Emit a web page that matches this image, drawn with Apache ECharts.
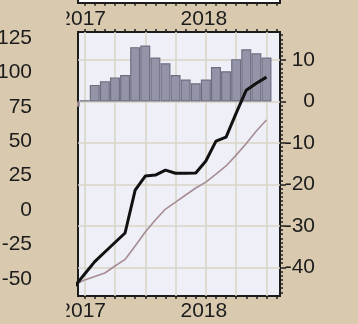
<!DOCTYPE html>
<html>
<head>
<meta charset="utf-8">
<script src="https://cdn.jsdelivr.net/npm/echarts@6/dist/echarts.min.js"></script>
<style>
  html, body { margin: 0; padding: 0; background: #D9C9AE; }
  #chart { width: 358px; height: 324px; }
</style>
</head>
<body>
<div id="chart"></div>
<script>
// Monthly observations, Dec 2016 .. Jul 2018
const months = ['2016-12', '2017-01', '2017-02', '2017-03', '2017-04', '2017-05', '2017-06',
  '2017-07', '2017-08', '2017-09', '2017-10', '2017-11', '2017-12', '2018-01', '2018-02',
  '2018-03', '2018-04', '2018-05', '2018-06', '2018-07'];

// Monthly change (right axis, bars)
const changeValues = [-1.3, 0.3, 4.0, 4.9, 5.8, 6.4, 13.1, 13.5, 10.6, 9.2, 6.4, 5.3, 4.4,
  5.3, 8.3, 7.3, 10.2, 12.6, 11.6, 10.6];

// Level series (left axis)
const actualValues = [-55.6, -46.5, -37.5, -30.5, -23.6, -16.7, 14.5, 24.7, 25.4, 29.0, 26.7,
  26.7, 26.9, 35.6, 50.1, 53.0, 70.4, 87.1, 92.2, 96.6];
const trendValues = [-54.5, -50.8, -48.3, -45.8, -40.7, -35.9, -26.1, -16.0, -7.3, 0.7, 5.8,
  10.9, 16.0, 20.3, 26.1, 32.0, 39.9, 48.3, 57.4, 65.4];

// Tick labels
const leftTicks = [-50, -25, 0, 25, 50, 75, 100, 125];
const rightTicks = [-40, -30, -20, -10, 0, 10];
const yearLabels = ['2017', '2018'];

// month string -> months since Jan 2017
function monthIndex(m) {
  const [y, mo] = m.split('-').map(Number);
  return (y - 2017) * 12 + (mo - 1);
}
const yearTicks = yearLabels.map(y => monthIndex(y + '-01'));
const monthTicks = [];
for (let i = 0; i <= 19; i++) monthTicks.push(i);
const quarterTicks = monthTicks.filter(i => i % 3 === 0);
const minorRight = [];
for (let v = -46; v <= 16; v++) minorRight.push(v);

const X_MIN = -0.66, X_MAX = 19.34;
const FONT = "'Liberation Sans', Arial, sans-serif";
const INK = '#1c1c1c';
const PAPER = '#D9C9AE';

function xAxisBase(extra) {
  return Object.assign({
    type: 'value', min: X_MIN, max: X_MAX,
    axisLine: { show: false, onZero: false },
    axisTick: { show: false },
    axisLabel: { show: false },
    splitLine: { show: false }
  }, extra);
}
const tickStyle = { color: INK, width: 1.5 };
function yearLabel(margin) {
  return {
    show: true, customValues: yearTicks, margin: margin, fontSize: 21, color: INK, fontFamily: FONT,
    padding: [0, 4, 0, 0],
    formatter: v => yearLabels[yearTicks.indexOf(v)] || ''
  };
}

const chart = echarts.init(document.getElementById('chart'), null, { renderer: 'canvas' });
chart.setOption({
  backgroundColor: PAPER,
  animation: false,
  grid: [
    { left: 78, right: 78, top: 32, bottom: 28, show: true, backgroundColor: '#EFEFF8',
      borderColor: INK, borderWidth: 2, containLabel: false, outerBoundsMode: 'none' },
    { left: 78, right: 78, top: 0, height: 2.7, show: true, backgroundColor: '#FFFFFF',
      borderWidth: 0, containLabel: false, outerBoundsMode: 'none' }
  ],
  xAxis: [
    xAxisBase({ gridIndex: 0, position: 'bottom',
      axisTick: { show: true, customValues: monthTicks, length: 3, lineStyle: tickStyle },
      axisLabel: yearLabel(5) }),
    xAxisBase({ gridIndex: 0, position: 'top',
      axisTick: { show: true, customValues: monthTicks, length: 3, lineStyle: tickStyle } }),
    xAxisBase({ gridIndex: 0, position: 'bottom',
      axisTick: { show: false, customValues: quarterTicks },
      splitLine: { show: true, lineStyle: { color: '#D9D4C6', width: 1.5 } } }),
    xAxisBase({ gridIndex: 1, position: 'bottom',
      axisLine: { show: true, onZero: false, lineStyle: { color: INK, width: 2 } },
      axisTick: { show: true, customValues: monthTicks, length: 3, lineStyle: tickStyle },
      axisLabel: yearLabel(6) })
  ],
  yAxis: [
    { type: 'value', gridIndex: 0, position: 'left', min: -62.5, max: 129.4,
      axisLine: { show: false, onZero: false }, axisTick: { show: false }, splitLine: { show: false },
      axisLabel: { customValues: leftTicks, margin: 46, fontSize: 21, color: INK, fontFamily: FONT } },
    { type: 'value', gridIndex: 0, position: 'right', min: -46.9, max: 16.75,
      axisLine: { show: false, onZero: false },
      axisTick: { show: true, customValues: rightTicks, length: 6, lineStyle: tickStyle },
      splitLine: { show: true, lineStyle: { color: '#D9D4C6', width: 1.5 } },
      axisLabel: { customValues: rightTicks, align: 'right', margin: 35, fontSize: 21, color: INK,
        fontFamily: FONT } },
    { type: 'value', gridIndex: 0, position: 'right', min: -46.9, max: 16.75,
      axisLine: { show: false, onZero: false },
      axisTick: { show: true, customValues: minorRight, length: 3, lineStyle: tickStyle },
      splitLine: { show: false }, axisLabel: { show: false } },
    { type: 'value', gridIndex: 1, position: 'left', min: 0, max: 1,
      axisLine: { show: true, onZero: false, lineStyle: { color: INK, width: 2 } },
      axisTick: { show: false }, axisLabel: { show: false }, splitLine: { show: false } },
    { type: 'value', gridIndex: 1, position: 'right', min: 0, max: 1,
      axisLine: { show: true, onZero: false, lineStyle: { color: INK, width: 2 } },
      axisTick: { show: false }, axisLabel: { show: false }, splitLine: { show: false } }
  ],
  series: [
    { name: 'change', type: 'bar', xAxisIndex: 0, yAxisIndex: 1, barWidth: 10, clip: true,
      data: months.map((m, i) => [monthIndex(m), changeValues[i]]),
      itemStyle: {
        color: p => (p.value[1] < 0 ? '#C98C9A' : '#9494A9'),
        borderColor: '#6E6E80', borderWidth: 1.2
      }, z: 2 },
    { name: 'trend', type: 'line', xAxisIndex: 0, yAxisIndex: 0, clip: true, showSymbol: false,
      data: months.map((m, i) => [monthIndex(m), trendValues[i]]),
      lineStyle: { color: '#A68C93', width: 1.6 }, z: 4 },
    { name: 'actual', type: 'line', xAxisIndex: 0, yAxisIndex: 0, clip: true, showSymbol: false,
      data: months.map((m, i) => [monthIndex(m), actualValues[i]]),
      lineStyle: { color: '#111111', width: 3 }, z: 5 }
  ],
  graphic: [
    // neighbouring panel edge hides the left part of the first year labels
    { type: 'rect', left: 36, top: 4, shape: { width: 30.5, height: 26 },
      style: { fill: PAPER }, z: 100 },
    { type: 'rect', left: 36, top: 298, shape: { width: 30.5, height: 26 },
      style: { fill: PAPER }, z: 100 },
    // margin strip left of the plot frame
    { type: 'rect', left: 56, top: 90, shape: { width: 21, height: 22 },
      style: { fill: PAPER }, z: 100 }
  ]
});
</script>
</body>
</html>
